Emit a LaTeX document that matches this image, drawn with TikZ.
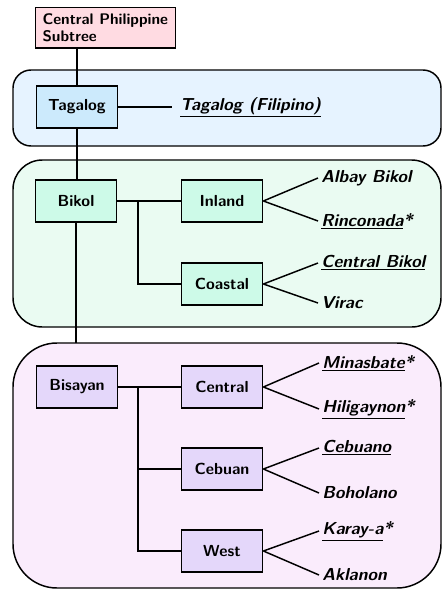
\documentclass[tikz,border=0pt]{standalone}
\usepackage{fontspec}
\definecolor{rootfill}{RGB}{255,219,226}
\definecolor{taggrp}{RGB}{230,243,255}
\definecolor{tagnode}{RGB}{204,234,252}
\definecolor{bikgrp}{RGB}{234,251,242}
\definecolor{biknode}{RGB}{205,250,232}
\definecolor{bisgrp}{RGB}{250,236,252}
\definecolor{bisnode}{RGB}{228,215,250}
\newcommand{\boxfont}{\fontsize{12}{13}\selectfont\sffamily\fontseries{bx}\selectfont}
\newcommand{\rootfont}{\fontsize{11.5}{12.8}\selectfont\sffamily\fontseries{bx}\selectfont}
\newcommand{\leaffont}{\fontsize{13}{14}\selectfont\sffamily\fontseries{bx}\selectfont\slshape}
\begin{document}
\begin{tikzpicture}[x=0.75pt,y=-0.75pt, line width=1.1pt,
  every node/.style={font=\boxfont},
  lang/.style={draw, minimum width=61pt, minimum height=31.5pt, inner sep=2pt},
  leaf/.style={anchor=west, inner xsep=2pt, inner ysep=2pt, font=\leaffont},
  grp/.style={draw}]
\useasboundingbox (0,0) rectangle (442,590);
% groups
\draw[grp, fill=taggrp, rounded corners=13.5pt] (13,70) rectangle (441,146);
\draw[grp, fill=bikgrp, rounded corners=22pt] (13,160) rectangle (441,327);
\draw[grp, fill=bisgrp, rounded corners=33pt] (13,343) rectangle (441,588);
% nodes
\node[draw, fill=rootfill, align=left, anchor=north west, inner xsep=5.5pt, inner ysep=4.5pt, font=\rootfont] (root) at (34.5,7) {Central Philippine\\Subtree};
\node[lang, fill=tagnode] (tag) at (77,107) {Tagalog};
\node[lang, fill=biknode] (bik) at (76,201) {Bikol};
\node[lang, fill=biknode] (inl) at (222,201) {Inland};
\node[lang, fill=biknode] (coa) at (222,284) {Coastal};
\node[lang, fill=bisnode] (bis) at (77,387) {Bisayan};
\node[lang, fill=bisnode] (cen) at (222,387) {Central};
\node[lang, fill=bisnode] (ceb) at (222,469) {Cebuan};
\node[lang, fill=bisnode] (wes) at (222,551) {West};
\coordinate (bistop) at (76,343);
\coordinate (bkj) at (138,201);
\coordinate (bsj) at (138,387);
% leaves
\node[leaf, inner xsep=5.5pt] (tagf) at (172,107) {\underline{Tagalog (Filipino)}};
\node[leaf] (alb) at (318,178) {Albay Bikol};
\node[leaf] (rin) at (318,221) {\underline{Rinconada}*};
\node[leaf] (cbk) at (318,263) {\underline{Central Bikol}};
\node[leaf] (vir) at (318,303) {Virac};
\node[leaf] (min) at (319,363) {\underline{Minasbate}*};
\node[leaf] (hil) at (319,409) {\underline{Hiligaynon}*};
\node[leaf] (cbo) at (319,448) {\underline{Cebuano}};
\node[leaf] (boh) at (319,493) {Boholano};
\node[leaf] (kar) at (319,531) {\underline{Karay-a}*};
\node[leaf] (akl) at (319,575) {Aklanon};
% connectors
\draw (tag.north) -- (tag.north |- root.south);
\draw (tag.south) -- (tag.south |- bik.north);
\draw (bik.south) -- (bik.south |- bistop);
\draw (tag.east) -- (tagf.west);
\draw (bik.east) -- (inl.west);
\draw (bkj) |- (coa.west);
\draw (bis.east) -- (cen.west);
\draw (bsj) |- (ceb.west);
\draw (bsj) |- (wes.west);
\draw (inl.east) -- (alb.west);
\draw (inl.east) -- (rin.west);
\draw (coa.east) -- (cbk.west);
\draw (coa.east) -- (vir.west);
\draw (cen.east) -- (min.west);
\draw (cen.east) -- (hil.west);
\draw (ceb.east) -- (cbo.west);
\draw (ceb.east) -- (boh.west);
\draw (wes.east) -- (kar.west);
\draw (wes.east) -- (akl.west);
\end{tikzpicture}
\end{document}
